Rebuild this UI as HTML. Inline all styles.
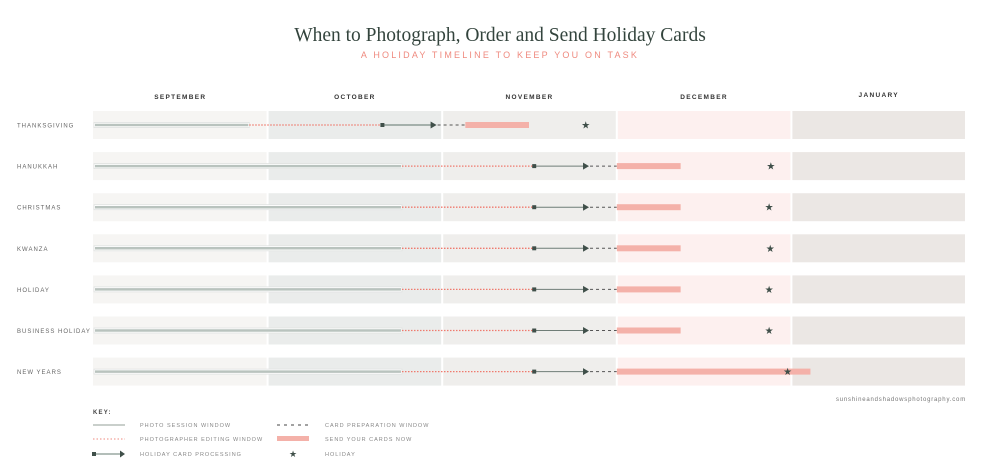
<!DOCTYPE html>
<html><head><meta charset="utf-8">
<style>
html,body{margin:0;padding:0;background:#fff;width:1000px;height:475px;overflow:hidden}
svg text{font-family:"Liberation Sans",sans-serif}
</style></head>
<body>
<svg id="chart" width="1000" height="475" viewBox="0 0 1000 475" xmlns="http://www.w3.org/2000/svg">
<text x="500" y="41" text-anchor="middle" style="font-family:'Liberation Serif',serif;font-size:19.5px;fill:#33443d">When to Photograph, Order and Send Holiday Cards</text>
<text x="500" y="58" text-anchor="middle" style="font-size:9px;letter-spacing:2.2px;fill:#ef8a7f">A HOLIDAY TIMELINE TO KEEP YOU ON TASK</text>
<g id="bands"></g>
<g id="labels"></g>
<g id="marks"></g>
<text x="966" y="401" text-anchor="end" style="font-size:6px;letter-spacing:0.8px;fill:#777">sunshineandshadowsphotography.com</text>
<g id="legend">
<text x="93" y="414" style="font-size:6px;font-weight:bold;letter-spacing:1.2px;fill:#444">KEY:</text>
<g>
<line x1="93" y1="425" x2="125" y2="425" stroke="#c9cfcb" stroke-width="2"/>
<text x="140" y="427" style="font-size:5.5px;letter-spacing:1px;fill:#888">PHOTO SESSION WINDOW</text></g>
<g>
<line x1="93" y1="439" x2="125" y2="439" stroke="#ef8a7f" stroke-width="1" stroke-dasharray="1.5,2"/>
<text x="140" y="441" style="font-size:5.5px;letter-spacing:1px;fill:#888">PHOTOGRAPHER EDITING WINDOW</text></g>
<g>
<line x1="94" y1="454" x2="122" y2="454" stroke="#9aa8a2" stroke-width="1.5"/>
<rect x="92" y="452" width="4" height="4" fill="#3f4f49"/>
<polygon points="120,450.5 125,454 120,457.5" fill="#3f4f49"/>
<text x="140" y="456" style="font-size:5.5px;letter-spacing:1px;fill:#888">HOLIDAY CARD PROCESSING</text></g>
<g>
<line x1="277" y1="425" x2="309" y2="425" stroke="#444" stroke-width="1" stroke-dasharray="3,4"/>
<text x="325" y="427" style="font-size:5.5px;letter-spacing:1px;fill:#888">CARD PREPARATION WINDOW</text></g>
<g>
<rect x="277" y="436" width="32" height="5" fill="#f4b1a9"/>
<text x="325" y="441" style="font-size:5.5px;letter-spacing:1px;fill:#888">SEND YOUR CARDS NOW</text></g>
<g>
<text x="293" y="457" text-anchor="middle" style="font-size:9px;fill:#3f4f49">★</text>
<text x="325" y="456" style="font-size:5.5px;letter-spacing:1px;fill:#888">HOLIDAY</text></g>
</g>
</svg>
<script>
const months = ["SEPTEMBER","OCTOBER","NOVEMBER","DECEMBER","JANUARY"];
const monthDays = [30,31,30,31,31];
const holidays = ["THANKSGIVING","HANUKKAH","CHRISTMAS","KWANZA","HOLIDAY","BUSINESS HOLIDAY","NEW YEARS"];
// dates as [monthIndex, day offset within month]
const photoEnd   = [[0,27],[1,24],[1,24],[1,24],[1,24],[1,24],[1,24]];
const editEnd    = [[1,20.5],[2,15.9],[2,15.9],[2,15.9],[2,15.9],[2,15.9],[2,15.9]];
const processEnd = [[1,30],[2,25.2],[2,25.2],[2,25.2],[2,25.2],[2,25.2],[2,25.2]];
const sendStart  = [[2,4],[3,0],[3,0],[3,0],[3,0],[3,0],[3,0]];
const sendEnd    = [[2,15],[3,11.4],[3,11.4],[3,11.4],[3,11.4],[3,11.4],[4,3.4]];
const holidayDate= [[2,24.8],[3,27.5],[3,27.2],[3,27.4],[3,27.2],[3,27.2],[3,30.5]];

const NS="http://www.w3.org/2000/svg";
const X0=93, MW=174.6, ROW0=125, ROWSTEP=41.1;
function xs(d){return X0+d[0]*MW+d[1]/monthDays[d[0]]*(MW-1);}
function ys(i){return ROW0+i*ROWSTEP;}
function mk(tag,attrs,parent){const e=document.createElementNS(NS,tag);for(const k in attrs)e.setAttribute(k,attrs[k]);parent.appendChild(e);return e;}
const bands=document.getElementById('bands'), marks=document.getElementById('marks'), labels=document.getElementById('labels');
const bandFill=["#f6f5f3","#eaeceb","#efeeec","#fdf0ef","#ebe7e4"];
months.forEach((m,mi)=>{
  const t=mk('text',{x:X0+mi*MW+MW/2,y:mi===4?97:99,'text-anchor':'middle',style:'font-size:6.5px;font-weight:bold;letter-spacing:1.3px;fill:#333'},labels);
  t.textContent=m;
  
  
});
holidays.forEach((h,i)=>{
  const y=ys(i);
  const lab=mk('text',{x:17,y:y+2.5,style:'font-size:6px;letter-spacing:1px;fill:#666'},labels);
  lab.textContent=h;
  
  
  months.forEach((m,mi)=>{
    const r=mk('rect',{x:X0+mi*MW+(mi?1:0),y:y-14,width:MW-(mi?2:1),height:28,fill:bandFill[mi]},bands);
    
    
  });
  const g=mk('g',{},marks);
  
  
  const pe=xs(photoEnd[i]), ee=xs(editEnd[i]), pr=xs(processEnd[i]), ss=xs(sendStart[i]), se=xs(sendEnd[i]), hd=xs(holidayDate[i]);
  const ph=mk('rect',{x:X0+1,y:y-2.5,width:pe-X0-1,height:5,fill:'#fff',stroke:'#dfe2e0','stroke-width':0.8},g);
  
  
  mk('line',{x1:X0+2,y1:y,x2:pe-1,y2:y,stroke:'#b9c3be','stroke-width':2.5},g);
  const ed=mk('line',{x1:pe,y1:y,x2:ee,y2:y,stroke:'#ef7a6e','stroke-width':1.3,'stroke-dasharray':'1.5,1.5'},g);
  
  
  const pl=mk('line',{x1:ee,y1:y,x2:pr-3,y2:y,stroke:i===0?'#9aa8a2':'#6f7d77','stroke-width':i===0?1.8:1},g);
  
  
  mk('rect',{x:ee-2,y:y-2,width:4,height:4,fill:'#3f4f49'},g);
  mk('polygon',{points:`${pr-5},${y-3.5} ${pr+1},${y} ${pr-5},${y+3.5}`,fill:'#3f4f49'},g);
  const cp=mk('line',{x1:pr+2,y1:y,x2:ss,y2:y,stroke:'#555','stroke-width':1,'stroke-dasharray':'3,3'},g);
  
  
  const sr=mk('rect',{x:ss,y:y-3,width:se-ss,height:6,fill:'#f4b1a9'},g);
  
  
  const st=mk('text',{x:hd,y:y+3.5,'text-anchor':'middle',style:'font-size:10px;fill:#3f4f49'},g);
  st.textContent='★';
  
  
});
</script>
</body></html>
